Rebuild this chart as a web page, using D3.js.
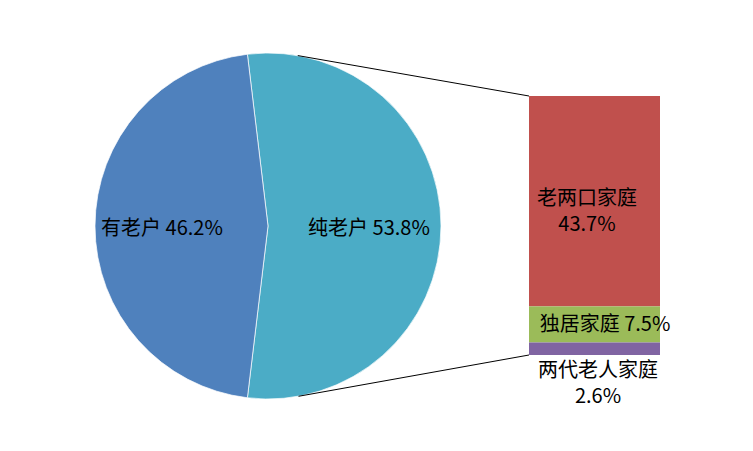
<!DOCTYPE html>
<html>
<head>
<meta charset="utf-8">
<script src="https://cdn.jsdelivr.net/npm/d3@7"></script>
<style>
  body { margin: 0; background: #fff; }
  text { font-family: "Noto Sans CJK SC", "Noto Sans", sans-serif; font-size: 20px; fill: #000; }
</style>
</head>
<body>
<div id="draw"></div>
<script>
// pie data
const pieNames = ['纯老户', '有老户'];
const pieValues = [53.8, 46.2];
const pieColors = ['#4BACC6', '#4F81BD'];

// bar (breakdown of 纯老户)
const barNames = ['老两口家庭', '独居家庭', '两代老人家庭'];
const barValues = [43.7, 7.5, 2.6];
const barColors = ['#C0504D', '#9BBB59', '#8064A2'];

let width = 753,
    height = 451;

let svg = d3.select('#draw')
    .append('svg')
    .attr('width', width)
    .attr('height', height);

let cx = 268, cy = 226, r = 173;

// pie, first slice centred on the right side
let total = d3.sum(pieValues);
let firstAngle = pieValues[0] / total * 2 * Math.PI;
let start = -(firstAngle - Math.PI) / 2;

let pie = d3.pie().sort(null).startAngle(start).endAngle(start + 2 * Math.PI);
let arcs = pie(pieValues);
let arc = d3.arc().innerRadius(0).outerRadius(r);

let pg = svg.append('g').attr('transform', 'translate(' + cx + ',' + cy + ')');
pg.selectAll('path')
    .data(arcs)
    .enter()
    .append('path')
    .attr('d', arc)
    .attr('fill', (d, i) => pieColors[i])
    .attr('stroke', '#fff')
    .attr('stroke-width', 0.7);

// bar
let barX = 529, barW = 131;
let barTotal = d3.sum(barValues);
let yScale = d3.scaleLinear().domain([0, barTotal]).range([355, 96]);
let stack = [];
let acc = 0;
barValues.forEach((v, i) => {
    // first segment sits on top
    stack.push({ name: barNames[i], value: v, top: barTotal - acc, bot: barTotal - acc - v, color: barColors[i] });
    acc += v;
});

svg.append('g')
    .selectAll('rect')
    .data(stack)
    .enter()
    .append('rect')
    .attr('x', barX)
    .attr('width', barW)
    .attr('y', d => yScale(d.top))
    .attr('height', d => yScale(d.bot) - yScale(d.top))
    .attr('fill', d => d.color);

// connector lines, tangent to the circle
function tangent(px, py, upper) {
    let dx = px - cx, dy = py - cy;
    let d = Math.sqrt(dx * dx + dy * dy);
    let base = Math.atan2(dy, dx);
    let a = Math.acos(r / d);
    let t = upper ? base - a : base + a;
    return [cx + r * Math.cos(t), cy + r * Math.sin(t)];
}
let topY = yScale(barTotal), botY = yScale(0);
let t1 = tangent(barX, topY, true), t2 = tangent(barX, botY, false);
svg.append('line').attr('x1', t1[0]).attr('y1', t1[1]).attr('x2', barX).attr('y2', topY)
    .attr('stroke', '#000').attr('stroke-width', 1);
svg.append('line').attr('x1', t2[0]).attr('y1', t2[1]).attr('x2', barX).attr('y2', botY)
    .attr('stroke', '#000').attr('stroke-width', 1);

// pie labels
svg.append('text').attr('x', 162).attr('y', 235).attr('text-anchor', 'middle')
    .text(pieNames[1] + ' ' + pieValues[1].toFixed(1) + '%');
svg.append('text').attr('x', 369).attr('y', 235).attr('text-anchor', 'middle')
    .text(pieNames[0] + ' ' + pieValues[0].toFixed(1) + '%');

// bar labels (two-line ones as tspans)
function twoLine(x, y, a, b) {
    let t = svg.append('text').attr('text-anchor', 'middle');
    t.append('tspan').attr('x', x).attr('y', y).text(a);
    t.append('tspan').attr('x', x).attr('dy', 26).text(b);
}
twoLine(587, 205, barNames[0], barValues[0].toFixed(1) + '%');
svg.append('text').attr('x', 605).attr('y', 331).attr('text-anchor', 'middle')
    .text(barNames[1] + ' ' + barValues[1].toFixed(1) + '%');
twoLine(598, 377, barNames[2], barValues[2].toFixed(1) + '%');
</script>
</body>
</html>
